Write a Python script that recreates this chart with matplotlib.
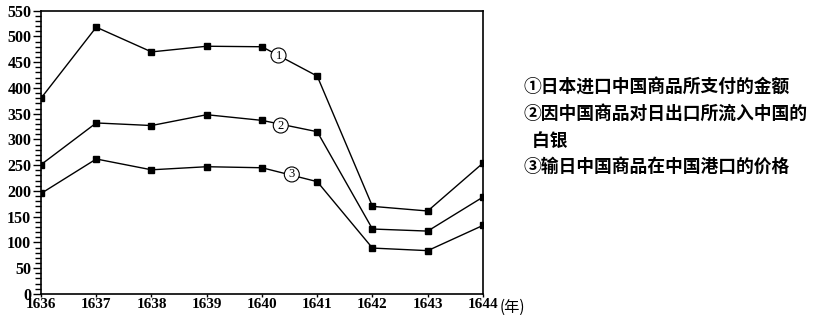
import matplotlib
matplotlib.use("Agg")
import matplotlib.pyplot as plt
from matplotlib.ticker import MultipleLocator

years = [1636, 1637, 1638, 1639, 1640, 1641, 1642, 1643, 1644]
series1 = [380, 518, 470, 481, 480, 423, 170, 161, 254]
series2 = [251, 332, 327, 348, 337, 315, 126, 122, 188]
series3 = [195, 262, 241, 247, 245, 218, 89, 84, 133]
line_labels = ["1", "2", "3"]
label_pos = [(1640.30, 463), (1640.34, 327), (1640.54, 232)]
legend_texts = ["①日本进口中国商品所支付的金额",
                "②因中国商品对日出口所流入中国的",
                "  白银",
                "③输日中国商品在中国港口的价格"]

fig = plt.figure(figsize=(8.37, 3.15), dpi=100)
ax = fig.add_axes([0.049, 0.067, 0.528, 0.899])

for s in (series1, series2, series3):
    ax.plot(years, s, color="black", lw=1.0, marker="s", markersize=4.5,
            markerfacecolor="black", markeredgecolor="black", zorder=3)

for lab, (x, y) in zip(line_labels, label_pos):
    ax.text(x, y, lab, ha="center", va="center", fontsize=9,
            family="Liberation Serif", zorder=5,
            bbox=dict(boxstyle="circle,pad=0.12", fc="white", ec="black", lw=0.8))

ax.set_xlim(1636, 1644)
ax.set_ylim(0, 550)
ax.set_xticks(years)
ax.set_xticklabels([str(y) for y in years])
ax.yaxis.set_major_locator(MultipleLocator(50))
ax.yaxis.set_minor_locator(MultipleLocator(10))
ax.tick_params(axis="y", which="major", direction="out", length=6, width=1,
               labelsize=11.5, pad=1)
ax.tick_params(axis="y", which="minor", direction="out", length=4, width=1)
ax.tick_params(axis="x", which="major", direction="out", length=2, width=1,
               labelsize=11, pad=1)
for lbl in ax.get_xticklabels() + ax.get_yticklabels():
    lbl.set_family("Liberation Serif")
    lbl.set_weight("semibold")
ax.annotate("(年)", xy=(1644, 0), xycoords="data", xytext=(12, -10),
            textcoords="offset points", ha="left", va="center", fontsize=11,
            family=["Noto Sans CJK SC", "DejaVu Sans"], annotation_clip=False)
for sp in ax.spines.values():
    sp.set_linewidth(1.2)

ys = [88, 114, 141, 167]
for t, yp in zip(legend_texts, ys):
    fig.text(524 / 837, 1 - yp / 315, t, fontsize=12.8, va="center", ha="left",
             family=["Noto Sans CJK SC", "DejaVu Sans"], weight="bold")

fig.savefig("out.png", dpi=100)
